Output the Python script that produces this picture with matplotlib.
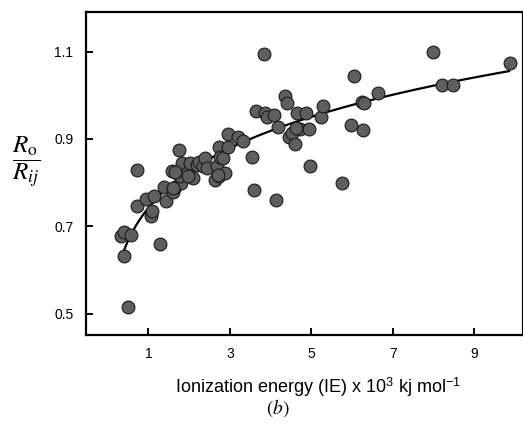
import numpy as np
import matplotlib
matplotlib.use("Agg")
import matplotlib.pyplot as plt

plt.rcParams['font.family'] = ['Liberation Sans', 'DejaVu Sans']
plt.rcParams['mathtext.fontset'] = 'stix'

# Scatter data (IE x 10^3, Ro/Rij)
ie = [0.33, 0.40, 0.58, 0.39, 0.50, 0.72, 0.71, 0.94, 1.14, 1.06, 1.08, 1.29,
      1.39, 1.43, 1.57, 1.61, 1.66, 1.74, 1.70, 1.82, 1.80, 1.78, 1.94, 2.01,
      2.09, 1.98, 2.19, 2.25, 2.35, 2.39, 2.45, 2.64, 2.72, 2.68, 2.72, 2.76,
      2.83, 2.88, 2.95, 2.95, 3.21, 3.32, 3.54, 3.60, 3.65, 3.83, 3.87, 3.91,
      4.07, 4.17, 4.14, 4.34, 4.40, 4.44, 4.52, 4.60, 4.64, 4.73, 4.87, 4.93,
      4.96, 5.23, 5.28, 5.75, 5.97, 6.04, 6.26, 6.24, 6.30, 6.63, 7.99, 8.21,
      8.47, 9.86, 1.60, 1.66, 2.70, 4.62]
ratio = [0.678, 0.686, 0.680, 0.631, 0.516, 0.828, 0.747, 0.762, 0.769, 0.724,
         0.734, 0.659, 0.789, 0.758, 0.827, 0.779, 0.791, 0.875, 0.823, 0.844,
         0.798, 0.814, 0.821, 0.844, 0.811, 0.815, 0.840, 0.848, 0.837, 0.856,
         0.833, 0.806, 0.814, 0.837, 0.882, 0.858, 0.856, 0.823, 0.882, 0.911,
         0.904, 0.896, 0.858, 0.782, 0.963, 1.095, 0.959, 0.950, 0.955, 0.927,
         0.760, 0.998, 0.983, 0.905, 0.913, 0.889, 0.960, 0.922, 0.959, 0.923,
         0.837, 0.950, 0.976, 0.798, 0.932, 1.043, 0.921, 0.985, 0.982, 1.005,
         1.100, 1.024, 1.024, 1.073, 0.787, 0.825, 0.818, 0.925]

# Fitted power-law trend (y = a * x^p), parameters
fit_a = 0.742
fit_p = 0.154
fit_range = [0.40, 9.85]

xticks = [1, 3, 5, 7, 9]
yticks = [0.5, 0.7, 0.9, 1.1]

fig = plt.figure(figsize=(5.23, 4.25), dpi=100)
ax = fig.add_axes([0.1644, 0.2118, 0.8356, 0.7593])

ax.scatter(ie, ratio, s=85, facecolor='#5e5e5e', edgecolor='#1a1a1a',
           linewidth=0.8, zorder=3)
xf = np.linspace(fit_range[0], fit_range[1], 200)
ax.plot(xf, fit_a * xf ** fit_p, color='black', lw=1.6, zorder=2)

ax.set_xlim(-0.531, 10.19)
ax.set_ylim(0.451, 1.190)
ax.set_xticks(xticks)
ax.set_xticklabels([str(t) for t in xticks])
ax.set_yticks(yticks)
ax.set_yticklabels([f"{t:.1f}" for t in yticks])
ax.tick_params(direction='in', length=5, width=1.4, labelsize=10,
               pad=9, color='black')
for s in ax.spines.values():
    s.set_linewidth(1.6)

fig.text(318/523, 1 - 387/425,
         r"Ionization energy (IE) x 10$^{\mathregular{3}}$ kj mol$^{\mathregular{-1}}$",
         ha='center', va='center', fontsize=13)
fig.text(278/523, 1 - 408/425, r"$(b)$", ha='center', va='center', fontsize=14)
fig.text(26/523, 1 - 162/425, r"$\dfrac{R_{\mathrm{o}}}{R_{ij}}$",
         ha='center', va='center', fontsize=18)

fig.savefig("out.png", dpi=100)
